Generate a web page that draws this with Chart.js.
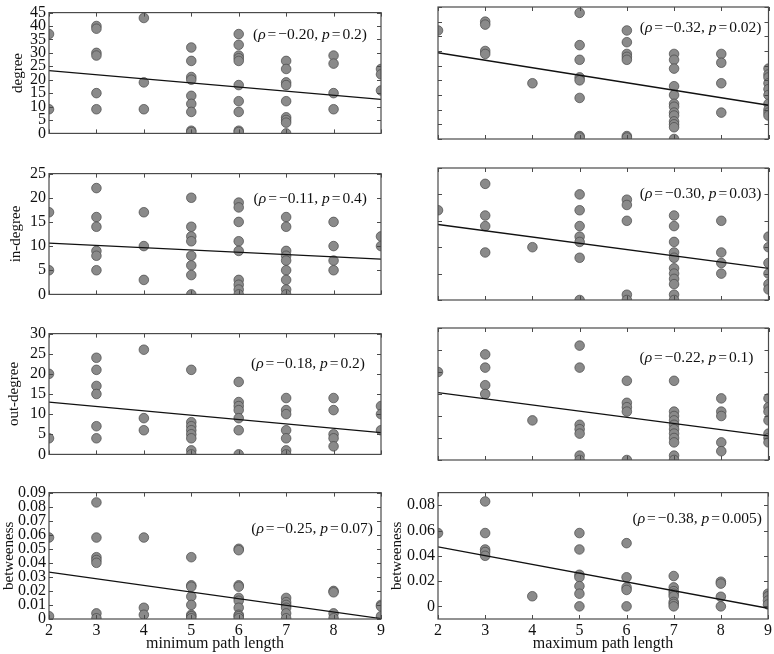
<!DOCTYPE html>
<html>
<head>
<meta charset="utf-8">
<script src="https://cdn.jsdelivr.net/npm/chart.js@4.4.1/dist/chart.umd.min.js"></script>
<style>
    body { margin: 0; background: #fff; }
    #wrap { position: relative; width: 774px; height: 654px; }
    canvas { position: absolute; }
</style>
</head>
<body>
<div id="wrap"></div>
<script>
// x values shared by every panel
const pathLength = [2, 3, 4, 5, 6, 7, 8, 9];

// y values, one list per path length (2..9)
const degreeMin = [
    [37, 9], [40, 39, 30, 29, 15, 9], [43, 19, 9], [32, 27, 21, 20, 14, 11, 8, 1, 0.5],
    [37, 33, 29, 28, 27, 18, 12, 8, 1, 0.5], [27, 24, 19, 18, 12, 6, 5, 4, 0], [29, 26, 15, 9], [24, 22, 16]
];
const degreeMax = [
    [37], [40, 39, 30, 29], [19], [43, 32, 27, 21, 20, 14, 1, 0.5],
    [37, 33, 29, 28, 27, 1, 0.5], [29, 27, 24, 18, 15, 12, 11, 9, 8, 6, 5, 4, 0], [29, 26, 19, 9],
    [24, 22, 21, 19, 17, 15, 12, 10, 9, 8]
];
const inDegreeMin = [
    [17, 5], [22, 16, 14, 9, 8, 5], [17, 10, 3], [20, 14, 12, 11, 8, 6, 4, 0],
    [19, 18, 15, 11, 9, 3, 2, 1, 0], [16, 14, 9, 8, 7, 5, 3, 1, 0], [15, 10, 7, 5], [12, 10]
];
const inDegreeMax = [
    [17], [22, 16, 14, 9], [10], [20, 17, 14, 12, 11, 8, 0],
    [19, 18, 15, 1, 0], [16, 14, 11, 9, 8, 6, 5, 4, 3, 1, 0], [15, 9, 7, 5], [12, 10, 7, 5, 3, 2]
];
const outDegreeMin = [
    [20, 4], [24, 21, 17, 15, 7, 4], [26, 9, 6], [21, 8, 7, 6, 5, 4, 1, 0],
    [18, 13, 12, 11, 9, 6, 0], [14, 11, 10, 6, 4, 1, 0], [14, 11, 5, 4, 2], [12, 10, 6]
];
const outDegreeMax = [
    [20], [24, 21, 17, 15], [9], [26, 21, 8, 7, 6, 1, 0],
    [18, 13, 12, 11, 0], [18, 11, 10, 9, 8, 7, 6, 5, 4, 1, 0], [14, 11, 10, 4, 2], [14, 12, 11, 9, 6, 5, 4]
];
const betweenMin = [
    [0.058, 0.002], [0.083, 0.058, 0.044, 0.042, 0.040, 0.004, 0.0005], [0.058, 0.008, 0.003],
    [0.044, 0.024, 0.023, 0.016, 0.010, 0.003, 0.002, 0.0005],
    [0.050, 0.049, 0.024, 0.023, 0.015, 0.013, 0.008, 0.003, 0.002, 0.0005],
    [0.015, 0.012, 0.010, 0.008, 0.004, 0.0005], [0.020, 0.019, 0.004, 0.0005], [0.010, 0.009, 0.002]
];
const betweenMax = [
    [0.058], [0.083, 0.058, 0.045, 0.043, 0.040], [0.008], [0.058, 0.045, 0.025, 0.023, 0.016, 0.010, 0],
    [0.050, 0.023, 0.015, 0.013, 0], [0.024, 0.015, 0.012, 0.010, 0.008, 0.0035, 0.002, 0],
    [0.0195, 0.018, 0.0076, 0], [0.010, 0.008, 0.0046, 0.0015]
];

// fitted line values at path length 2 and 9
const fitDegree = [[23.4, 12.7], [29.4, 11.5]];
const fitInDegree = [[10.6, 7.3], [14.3, 6.0]];
const fitOutDegree = [[13.0, 5.4], [15.3, 5.5]];
const fitBetween = [[0.0334, 0.0003], [0.047, -0.0015]];

// correlation notes: [min, max]
const rhoValues = [['−0.20', '−0.32'], ['−0.11', '−0.30'], ['−0.18', '−0.22'], ['−0.25', '−0.38']];
const pValues = [['0.2', '0.02'], ['0.4', '0.03'], ['0.2', '0.1'], ['0.07', '0.005']];

// tick labels
const degreeTicks = [0, 5, 10, 15, 20, 25, 30, 35, 40, 45];
const inDegreeTicks = [0, 5, 10, 15, 20, 25];
const outDegreeTicks = [0, 5, 10, 15, 20, 25, 30];
const betweenTicksMin = [0, 0.01, 0.02, 0.03, 0.04, 0.05, 0.06, 0.07, 0.08, 0.09];
const betweenTicksMax = [0, 0.02, 0.04, 0.06, 0.08];

const FONT = "'Liberation Serif', 'DejaVu Serif', serif";
const INK = '#111';

const rows = [
    { top: 7, label: 'degree', range: [0, 45], ticks: [degreeTicks, degreeTicks], data: [degreeMin, degreeMax], fit: fitDegree, titlePad: 9, noteDy: [22, 21], noteDx: [14, 7] },
    { top: 168, label: 'in-degree', range: [0, 25], ticks: [inDegreeTicks, inDegreeTicks], data: [inDegreeMin, inDegreeMax], fit: fitInDegree, titlePad: 7, noteDy: [25, 26], noteDx: [14, 7] },
    { top: 328, label: 'out-degree', range: [0, 30], ticks: [outDegreeTicks, outDegreeTicks], data: [outDegreeMin, outDegreeMax], fit: fitOutDegree, titlePad: 5, noteDy: [30, 30], noteDx: [16, 15] },
    { top: 487, label: 'betweeness', range: [0, 0.09], rangeMax: [-0.01, 0.09], ticks: [betweenTicksMin, betweenTicksMax], data: [betweenMin, betweenMax], fit: fitBetween, titlePad: 0, titlePadR: 1.5, noteDy: [36, 26], noteDx: [8, 6] }
];

const framePlugin = {
    id: 'frame',
    afterDraw(chart) {
        const ctx = chart.ctx;
        const { left, right, top, bottom } = chart.chartArea;
        const xs = chart.scales.x, ys = chart.scales.y;
        ctx.save();
        ctx.strokeStyle = '#4a4a4a';
        ctx.lineWidth = 1.2;
        ctx.strokeRect(left, top, right - left, bottom - top);
        ctx.lineWidth = 1;
        ctx.beginPath();
        xs.ticks.forEach(t => {
            const px = Math.round(xs.getPixelForValue(t.value)) + 0.5;
            ctx.moveTo(px, bottom); ctx.lineTo(px, bottom - 4);
            ctx.moveTo(px, top); ctx.lineTo(px, top + 4);
        });
        ys.ticks.forEach(t => {
            const py = Math.round(ys.getPixelForValue(t.value)) + 0.5;
            ctx.moveTo(left, py); ctx.lineTo(left + 4, py);
            ctx.moveTo(right, py); ctx.lineTo(right - 4, py);
        });
        ctx.stroke();
        ctx.restore();
    }
};

const notePlugin = {
    id: 'corrNote',
    afterDraw(chart, args, opts) {
        const ctx = chart.ctx;
        const size = 15.5;
        const parts = [
            { t: '(' }, { t: 'ρ', it: true }, { t: '=', gap: 2 }, { t: opts.rho + ', ' },
            { t: 'p', it: true }, { t: '=', gap: 2 }, { t: opts.p + ')' }
        ];
        ctx.save();
        let total = 0;
        parts.forEach(s => {
            ctx.font = (s.it ? 'italic ' : '') + size + 'px ' + FONT;
            s.w = ctx.measureText(s.t).width + 2 * (s.gap || 0);
            total += s.w;
        });
        let x = chart.chartArea.right - opts.dx - total;
        const y = chart.chartArea.top + opts.dy;
        ctx.fillStyle = INK;
        ctx.textBaseline = 'middle';
        ctx.textAlign = 'left';
        parts.forEach(s => {
            ctx.font = (s.it ? 'italic ' : '') + size + 'px ' + FONT;
            ctx.fillText(s.t, x + (s.gap || 0), y);
            x += s.w;
        });
        ctx.restore();
    }
};

function fmtTick(v) {
    if (v === 0) return '0';
    return Math.abs(v) < 1 ? v.toFixed(2) : String(v);
}

function buildPanel(r, col) {
    const row = rows[r];
    const last = r === 3;
    const canvasLeft = col === 0 ? 0 : 387;
    const plotLeft = col === 0 ? 49 : 438;
    const canvasTop = row.top - 7;
    const height = last ? 654 - canvasTop : 146;

    const canvas = document.createElement('canvas');
    canvas.width = 387;
    canvas.height = height;
    canvas.style.left = canvasLeft + 'px';
    canvas.style.top = canvasTop + 'px';
    document.getElementById('wrap').appendChild(canvas);

    const cols = row.data[col];
    const points = pathLength.flatMap((x, i) => cols[i].map(y => ({ x: x, y: y })));
    const fit = row.fit[col];
    const range = col === 1 && row.rangeMax ? row.rangeMax : row.range;
    const yTicks = row.ticks[col];
    const showYLabels = col === 0 || last;

    new Chart(canvas, {
        type: 'scatter',
        data: {
            datasets: [
                {
                    data: [{ x: pathLength[0], y: fit[0] }, { x: pathLength[pathLength.length - 1], y: fit[1] }],
                    showLine: true,
                    borderColor: INK,
                    borderWidth: 1.3,
                    pointRadius: 0,
                    clip: 0
                },
                {
                    data: points,
                    pointRadius: 4.8,
                    backgroundColor: '#8a8a8a',
                    borderColor: '#474747',
                    borderWidth: 0.7,
                    clip: 0
                }
            ]
        },
        options: {
            responsive: false,
            animation: false,
            events: [],
            layout: { padding: { top: 7, bottom: last ? 0 : 7, left: 0, right: col === 0 ? 6 : 5 } },
            plugins: {
                legend: { display: false },
                tooltip: { enabled: false },
                corrNote: { rho: rhoValues[r][col], p: pValues[r][col], dx: row.noteDx[col], dy: row.noteDy[col] }
            },
            scales: {
                x: {
                    type: 'linear',
                    min: pathLength[0],
                    max: pathLength[pathLength.length - 1],
                    afterBuildTicks: s => { s.ticks = pathLength.map(v => ({ value: v })); },
                    afterFit: s => { s.height = last ? 35 : 0; },
                    grid: { display: false, drawTicks: false },
                    border: { display: false },
                    ticks: { display: last, autoSkip: false, padding: 2, color: INK, font: { family: FONT, size: 16 } },
                    title: {
                        display: last,
                        text: col === 0 ? 'minimum path length' : 'maximum path length',
                        color: INK,
                        font: { family: FONT, size: 16 },
                        padding: { top: 0, bottom: 1 }
                    }
                },
                y: {
                    min: range[0],
                    max: range[1],
                    afterBuildTicks: s => { s.ticks = yTicks.map(v => ({ value: v })); },
                    afterFit: s => { s.width = plotLeft - canvasLeft; },
                    grid: { display: false, drawTicks: false },
                    border: { display: false },
                    ticks: { display: showYLabels, autoSkip: false, padding: 3, color: INK, font: { family: FONT, size: 16 }, callback: fmtTick },
                    title: {
                        display: showYLabels,
                        text: row.label,
                        color: INK,
                        font: { family: FONT, size: 15 },
                        padding: { top: col === 0 ? row.titlePad : row.titlePadR, bottom: 0 }
                    }
                }
            }
        },
        plugins: [framePlugin, notePlugin]
    });
}

for (let r = 0; r < rows.length; r++) {
    buildPanel(r, 0);
    buildPanel(r, 1);
}
</script>
</body>
</html>
